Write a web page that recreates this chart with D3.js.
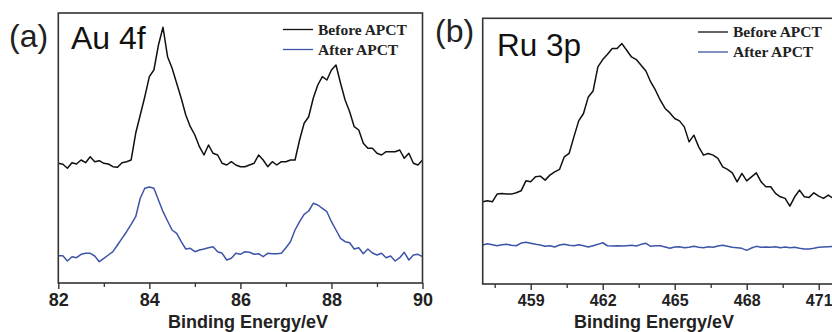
<!DOCTYPE html>
<html>
<head>
<meta charset="utf-8">
<script src="https://cdn.jsdelivr.net/npm/d3@7"></script>
<style>
  body { margin: 0; background: #fff; }
  svg { display: block; }
</style>
</head>
<body>
<div id="chart"></div>
<script>
// XPS spectra (arbitrary intensity units)
// Au 4f: 82.0 -> 90.0 eV, step 0.1 eV
const auStart = 82, auStep = 0.1;
const auBefore = [
  119.7, 118.7, 114.7, 120.3, 119, 123, 120.3, 126.3, 121.3, 122.3,
  119.7, 119, 116.3, 115.7, 120.3, 121.3, 123, 149.7, 168, 186.3,
  206.3, 213, 238, 255.7, 226.3, 214.7, 199.7, 184.7, 168, 156.3,
  148, 136.3, 128, 138, 129.7, 128, 119.7, 118, 121.3, 118,
  116.3, 116.3, 118, 119.7, 128, 123, 116.3, 121.3, 118, 121.3,
  121.3, 123, 123, 143, 159.7, 166.3, 184.7, 198, 206.3, 203,
  213, 218, 199.7, 183, 171.3, 156.3, 153, 139.7, 134.7, 134.7,
  129.7, 128, 131.3, 131.3, 131.3, 133, 124.7, 129.7, 119.7, 118, 123
];
const auAfter = [
  27.3, 27.3, 22, 26.3, 25.3, 28.7, 29.7, 29.7, 27, 21.3,
  24.7, 28, 31.3, 38, 44.7, 51.3, 58.7, 66.3, 84.7, 94.7,
  96, 94.7, 83, 71.3, 62, 53, 49.7, 41.3, 34, 34.7,
  31.3, 33, 34, 35.3, 36.3, 31.3, 29.7, 23, 24.7, 29.7,
  28.7, 31.3, 30.7, 28.7, 29.3, 26.3, 29.7, 29.3, 29.3, 29.7,
  35.3, 41.3, 53, 61.3, 68.7, 72, 79.7, 78, 74.7, 71.3,
  61.3, 53, 44.7, 41.3, 40.3, 34, 35.3, 29.3, 34, 30,
  28, 29.7, 25.3, 27, 22, 25.3, 30.7, 23, 28, 28.7, 26.3
];

// Ru 3p: 457.0 -> 471.6 eV, step 0.2 eV
const ruStart = 457, ruStep = 0.2;
const ruBefore = [
  82.3, 83.3, 82.3, 90, 90.7, 90, 90, 91.3, 93.3, 103.3,
  102.3, 107.3, 108, 104, 109, 112.3, 114.7, 127.3, 130.7, 147.3,
  163.3, 170.7, 187.3, 193.3, 217.3, 224.7, 230, 235.7, 235.7, 240.7,
  234, 227.3, 224.7, 219, 213.3, 202.3, 194, 184, 175.7, 171.3,
  165.7, 163.3, 157.3, 142.3, 149, 137.3, 129, 130.7, 129, 125.7,
  117.3, 114.7, 111.3, 102.3, 110.7, 103.3, 107.3, 111.3, 102.3, 97.3,
  97.3, 90.7, 87.3, 85.7, 78, 87.3, 94, 87.3, 86.7, 91.3,
  88, 85.7, 89, 85.7
];
const ruAfter = [
  39, 40.3, 39.3, 38.3, 39.3, 39.7, 38.7, 38.3, 41, 41.7,
  40.7, 39.7, 39, 37.7, 38.3, 37, 39, 39.7, 38.7, 38.3,
  39.3, 38.3, 37, 38.3, 39.7, 41.3, 38.3, 38, 38.3, 38,
  38.3, 38.7, 38, 39.7, 40.7, 37.7, 38.3, 38.3, 37, 35.7,
  37, 37.3, 36.3, 36.7, 37.7, 36.7, 36.3, 37.3, 36.7, 38,
  38.7, 37.7, 36.7, 36.3, 35.7, 33.7, 36, 37.7, 36.7, 37,
  36.7, 37.3, 36.3, 37, 36.3, 36.7, 35.7, 35, 35, 35.7,
  36.7, 37, 37.3, 37.7
];

const seriesNames = ["Before APCT", "After APCT"];
const seriesColors = ["#111111", "#3d55a8"];

const width = 832, height = 332;

const svg = d3.select("#chart").append("svg")
  .attr("width", width)
  .attr("height", height)
  .attr("viewBox", [0, 0, width, height]);

function toPoints(start, step, vals) {
  return vals.map((v, i) => [start + i * step, v]);
}

function drawPanel(p) {
  const x = d3.scaleLinear().domain(p.xDomain).range([p.left, p.right]);
  const y = d3.scaleLinear().domain(p.yDomain).range([p.bottom, p.top]);
  const g = svg.append("g");

  g.append("clipPath").attr("id", p.id + "-clip")
    .append("rect")
    .attr("x", p.left).attr("y", p.top)
    .attr("width", p.right - p.left).attr("height", p.bottom - p.top);

  const line = d3.line().x(d => x(d[0])).y(d => y(d[1]));
  p.series.forEach((s, i) => {
    g.append("path")
      .attr("clip-path", `url(#${p.id}-clip)`)
      .attr("d", line(s))
      .attr("fill", "none")
      .attr("stroke", seriesColors[i])
      .attr("stroke-width", 1.5)
      .attr("stroke-linejoin", "round");
  });

  // frame
  g.append("rect")
    .attr("x", p.left).attr("y", p.top)
    .attr("width", p.right - p.left).attr("height", p.bottom - p.top)
    .attr("fill", "none").attr("stroke", "#333").attr("stroke-width", 1.6);

  // minor ticks
  g.append("g")
    .attr("transform", `translate(0,${p.bottom})`)
    .call(d3.axisBottom(x).tickValues(p.minorTicks).tickSize(4).tickFormat(""))
    .call(a => a.select(".domain").remove())
    .call(a => a.selectAll("line").attr("stroke", "#333").attr("stroke-width", 1.3));

  // major ticks + labels
  g.append("g")
    .attr("transform", `translate(0,${p.bottom})`)
    .call(d3.axisBottom(x).tickValues(p.majorTicks).tickSize(6).tickPadding(p.tickPad).tickFormat(d3.format("d")))
    .call(a => a.select(".domain").remove())
    .call(a => a.selectAll("line").attr("stroke", "#333").attr("stroke-width", 1.4))
    .call(a => a.selectAll("text")
      .attr("fill", "#222")
      .style("font-family", "'Liberation Sans', Arial, sans-serif")
      .style("font-weight", "bold")
      .style("font-size", p.tickFont + "px"));

  // axis title
  g.append("text")
    .attr("x", p.titleX).attr("y", 328)
    .attr("text-anchor", "middle")
    .attr("fill", "#222")
    .style("font-family", "'Liberation Sans', Arial, sans-serif")
    .style("font-weight", "bold")
    .style("font-size", "18px")
    .text("Binding Energy/eV");

  // panel tag and element label
  g.append("text")
    .attr("x", p.tagX).attr("y", p.tagY)
    .attr("fill", "#222")
    .style("font-family", "'Liberation Sans', Arial, sans-serif")
    .style("font-size", "32px")
    .text(p.tag);
  g.append("text")
    .attr("x", p.labelX).attr("y", p.labelY)
    .attr("fill", "#111")
    .style("font-family", "'Liberation Sans', Arial, sans-serif")
    .style("font-size", p.labelFont + "px")
    .text(p.label);

  // legend
  seriesNames.forEach((name, i) => {
    const ly = p.legendY + i * 20;
    g.append("line")
      .attr("x1", p.legendX).attr("x2", p.legendX + 30)
      .attr("y1", ly).attr("y2", ly)
      .attr("stroke", seriesColors[i]).attr("stroke-width", 1.3);
    g.append("text")
      .attr("x", p.legendX + 35).attr("y", ly + 5)
      .attr("fill", "#222")
      .style("font-family", "'Liberation Serif', 'Times New Roman', serif")
      .style("font-weight", "bold")
      .style("font-size", "15.5px")
      .text(name);
  });
}

drawPanel({
  id: "au",
  xDomain: [82, 90], yDomain: [0, 270],
  left: 58.3, right: 422.5, top: 13, bottom: 283,
  majorTicks: [82, 84, 86, 88, 90], minorTicks: [83, 85, 87, 89],
  tickFont: 18, tickPad: 4,
  titleX: 248,
  tag: "(a)", tagX: 9, tagY: 47,
  label: "Au 4f", labelX: 71, labelY: 49, labelFont: 32,
  legendX: 283, legendY: 29.5,
  series: [toPoints(auStart, auStep, auBefore), toPoints(auStart, auStep, auAfter)]
});

drawPanel({
  id: "ru",
  xDomain: [457, 472], yDomain: [0, 266],
  left: 482.7, right: 842.7, top: 18.3, bottom: 284,
  majorTicks: [459, 462, 465, 468, 471], minorTicks: [457.5, 460.5, 463.5, 466.5, 469.5],
  tickFont: 16, tickPad: 5,
  titleX: 654,
  tag: "(b)", tagX: 435, tagY: 42,
  label: "Ru 3p", labelX: 497, labelY: 56, labelFont: 31.5,
  legendX: 698, legendY: 32,
  series: [toPoints(ruStart, ruStep, ruBefore), toPoints(ruStart, ruStep, ruAfter)]
});
</script>
</body>
</html>
